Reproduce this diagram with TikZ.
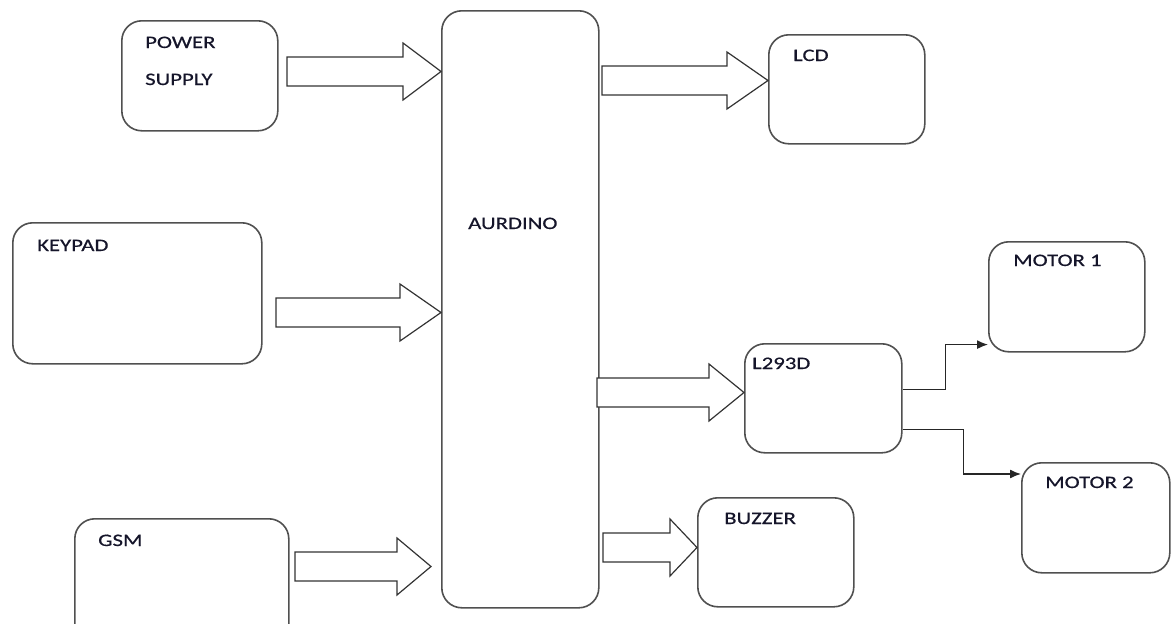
\documentclass[tikz,border=0pt]{standalone}
\usepackage{fontspec}
\newfontfamily\lab[FakeStretch=1.3,FakeBold=0.6]{Carlito}
\usetikzlibrary{arrows.meta}
\definecolor{boxline}{HTML}{505050}
\definecolor{txt}{HTML}{15152A}
\tikzset{
  blk/.style={draw=boxline, line width=1.6pt, rounded corners=20pt, anchor=north west, inner sep=0pt},
  lbl/.style={anchor=base west, inner sep=0pt, font=\lab\fontsize{17.5}{20}\selectfont, text=txt},
  barrow/.style={draw=black!80, line width=1.2pt, fill=white, line join=miter},
  conn/.style={draw=black!85, line width=1.3pt, -{Latex[length=11pt,width=9pt]}}
}
\newcommand{\blockarrow}[6]{% x-start, x-head, x-tip, y-centre, half-shaft, half-head
  \draw[barrow] (#1,#4-#5) -- (#2,#4-#5) -- (#2,#4-#6) -- (#3,#4) -- (#2,#4+#6) -- (#2,#4+#5) -- (#1,#4+#5) -- cycle;}
\begin{document}
\begin{tikzpicture}[x=1pt,y=-1pt]
\useasboundingbox (0,0) rectangle (1171,624);
\clip (0,0) rectangle (1171,624);
% boxes
\node[blk, minimum width=156pt, minimum height=110pt] (power) at (121,20) {};
\node[blk, minimum width=249pt, minimum height=141pt] (keypad) at (12,222) {};
\node[blk, minimum width=214pt, minimum height=130pt] (gsm) at (74,518) {};
\node[blk, minimum width=157pt, minimum height=597pt] (ard) at (441,10) {};
\node[blk, minimum width=156pt, minimum height=109pt] (lcd) at (768,34) {};
\node[blk, minimum width=157pt, minimum height=109pt] (l293) at (744,343) {};
\node[blk, minimum width=156pt, minimum height=110pt] (m1) at (988,241) {};
\node[blk, minimum width=148pt, minimum height=110pt] (m2) at (1021,462) {};
\node[blk, minimum width=156pt, minimum height=109pt] (buz) at (697,497) {};
% labels
\node[lbl] (tpow) at (145,48) {POWER};
\node[lbl] (tsup) at (145,85) {SUPPLY};
\node[lbl] (tkey) at (37,251) {KEYPAD};
\node[lbl] (tgsm) at (98,546) {GSM};
\node[lbl] (tard) at (468,229) {AURDINO};
\node[lbl] (tlcd) at (793,61) {LCD};
\node[lbl] (tl29) at (752,369) {L293D};
\node[lbl] (tm1) at (1013,266) {MOTOR 1};
\node[lbl] (tm2) at (1045,488) {MOTOR 2};
\node[lbl] (tbuz) at (724,524) {BUZZER};
% block arrows
\blockarrow{287}{403}{441}{71.5}{14.5}{28.5}
\blockarrow{276}{400}{441}{312.5}{14.5}{28.5}
\blockarrow{295}{397}{431}{566.5}{14.5}{28.5}
\blockarrow{602}{727}{768}{80.5}{14.5}{28.5}
\blockarrow{597}{709}{744}{392.5}{14.5}{28.5}
\blockarrow{603}{670}{697}{547.5}{14.5}{28.5}
% connectors to motors
\coordinate (m1in) at ([yshift=8pt]m1.south west);
\coordinate (m2in) at ([yshift=-12pt]m2.north west);
\draw[conn] ([yshift=8.5pt]l293.east) -- ++(43,0) |- (m1in);
\draw[conn] ([yshift=-31.5pt]l293.east) -- ++(61,0) |- (m2in);
\end{tikzpicture}
\end{document}
